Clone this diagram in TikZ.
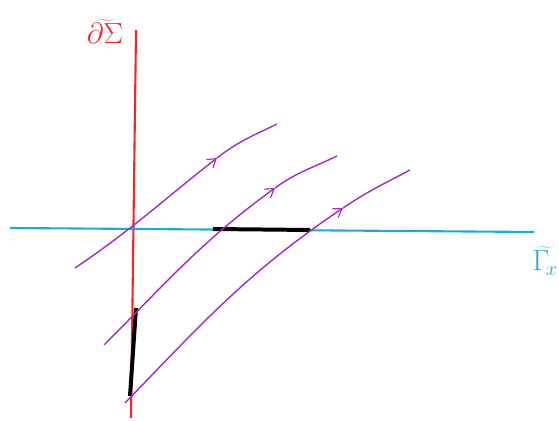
\documentclass[tikz,border=0pt]{standalone}
\usepackage{tikz}
\usetikzlibrary{arrows.meta}

\definecolor{bdred}{RGB}{240,40,40}
\definecolor{gamcyan}{RGB}{30,170,215}
\definecolor{flowpurple}{RGB}{165,40,200}

\begin{document}
\begin{tikzpicture}[x=0.03cm,y=0.03cm,
    flow/.style={flowpurple,line width=1.2pt},
    flowtip/.style={-{Straight Barb[length=7pt,width=9pt,line width=1pt]}},
    thickblack/.style={black,line width=3.4pt},
    lbl/.style={inner sep=0pt,font=\fontsize{24}{28}\selectfont}]
    \useasboundingbox (0,0) rectangle (559,421);

    % Define the points of the two lines
    \coordinate (S1) at (136,391);
    \coordinate (S2) at (131,3);
    \coordinate (G1) at (10,193);
    \coordinate (G2) at (534,189);

    % Define the points of the black pieces
    \coordinate (P1) at (136,113);
    \coordinate (P2) at (130,25);
    \coordinate (Q1) at (213,192);
    \coordinate (Q2) at (310,191);

    % Define the points of the flow lines
    \coordinate (a1) at (75,153);
    \coordinate (a2) at (217,263);
    \coordinate (a3) at (277,297);
    \coordinate (b1) at (104,76);
    \coordinate (b2) at (275,233);
    \coordinate (b3) at (337,265);
    \coordinate (c1) at (125,18);
    \coordinate (c2) at (343,213);
    \coordinate (c3) at (410,251);

    % Draw the two lines
    \draw[bdred,line width=1.8pt] (S1) -- (S2);
    \draw[gamcyan,line width=1.8pt] (G1) -- (G2);

    % Draw the thick black pieces
    \draw[thickblack] (P1) -- (P2);
    \draw[thickblack] (Q1) -- (Q2);

    % Draw the flow lines
    \draw[flow,flowtip] (a1) to[out=34,in=218] (a2);
    \draw[flow] (a2) to[out=38,in=206] (a3);
    \draw[flow,flowtip] (b1) to[out=45,in=216] (b2);
    \draw[flow] (b2) to[out=36,in=206] (b3);
    \draw[flow,flowtip] (c1) to[out=46,in=214] (c2);
    \draw[flow] (c2) to[out=34,in=208] (c3);

    % Place the labels
    \node (ls) at (105,389) [bdred,lbl] {$\widetilde{\partial\Sigma}$};
    \node (lg) at (558,160) [gamcyan,lbl,anchor=east] {$\widetilde{\Gamma_{\!x}}$};

\end{tikzpicture}
\end{document}
